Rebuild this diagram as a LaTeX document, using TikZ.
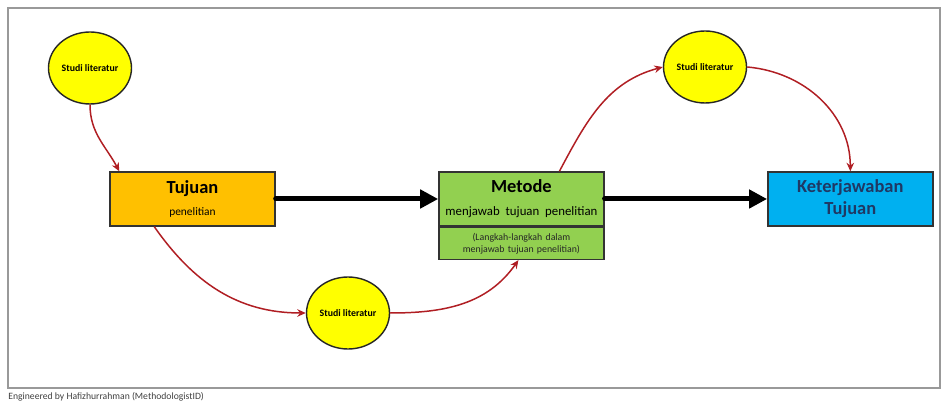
\documentclass[tikz,border=0pt]{standalone}
\usepackage{fontspec}
\setmainfont{Carlito}
\usetikzlibrary{shapes,arrows.meta,positioning,calc}
\usepackage{xcolor}
\definecolor{litfill}{HTML}{FFFF00}
\definecolor{tujuanfill}{HTML}{FFC000}
\definecolor{metodefill}{HTML}{92D050}
\definecolor{hasilfill}{HTML}{00B0F0}
\definecolor{hasiltext}{HTML}{1F3864}
\definecolor{curvered}{HTML}{B01E23}

\begin{document}
\begin{tikzpicture}[
    node distance=0cm and 3.25cm,
    lit/.style={ellipse, draw=black!85, line width=0.8pt, fill=litfill, minimum width=1.66cm, minimum height=1.44cm, inner sep=0pt, font=\fontsize{5.6}{6.5}\selectfont\bfseries},
    box/.style={rectangle, draw=black!80, line width=0.8pt, text width=3.2cm, align=center, minimum width=3.3cm, minimum height=1.08cm, inner sep=1pt},
    flow/.style={-{Triangle[length=0.36cm,width=0.36cm]}, line width=2.85pt, line cap=round},
    curve/.style={-{Stealth[length=1.7mm,width=1.5mm]}, draw=curvered, line width=0.85pt}
]
\useasboundingbox (0,0) rectangle (18.92,8.06);

% Frame and footer
\draw[black!40, line width=0.8pt] (0.16,0.30) rectangle (18.80,7.90);
\node[anchor=west, inner sep=0pt, text=black!75, font=\fontsize{5.5}{6.5}\selectfont] (credit) at (0.16,0.12) {Engineered by Hafizhurrahman (MethodologistID)};

% Main boxes
\node[box, fill=tujuanfill] (tujuan) at (3.85,4.08) {{\fontsize{10.5}{12}\selectfont\bfseries Tujuan}\\[1pt]{\fontsize{6.5}{8}\selectfont penelitian}};
\node[box, fill=metodefill, right=of tujuan] (metode) {{\fontsize{10.5}{12}\selectfont\bfseries Metode}\\[1pt]{\fontsize{7.3}{8}\selectfont menjawab tujuan penelitian}};
\node[box, fill=metodefill, minimum height=0.64cm, below=of metode, text=black!85, font=\fontsize{5.6}{6.8}\selectfont] (metodeket) {(Langkah-langkah dalam\\menjawab tujuan penelitian)};
\node[box, fill=hasilfill, right=of metode, text=hasiltext, font=\fontsize{10.5}{12.5}\selectfont\bfseries] (hasil) {Keterjawaban\\Tujuan};

% Literature circles
\node[lit] (lit1) at (1.80,6.70) {Studi literatur};
\node[lit] (lit2) at (6.96,1.80) {Studi literatur};
\node[lit] (lit3) at (14.10,6.72) {Studi literatur};

% Main flow
\draw[flow] (tujuan) -- (metode);
\draw[flow] (metode) -- (hasil);

% Literature links
\draw[curve] (lit1.south) to[out=-90, in=118] ($(tujuan.north west)+(0.2,0)$);
\draw[curve] ($(tujuan.south west)+(0.9,0)$) to[out=-55, in=180] (lit2.west);
\draw[curve] (lit2.east) to[out=0, in=-125] ($(metodeket.south)+(-0.06,0)$);
\draw[curve] ($(metode.north)+(0.76,0)$) to[out=62, in=195] (lit3.west);
\draw[curve] (lit3.east) to[out=-5, in=90] (hasil.north);

\end{tikzpicture}
\end{document}
